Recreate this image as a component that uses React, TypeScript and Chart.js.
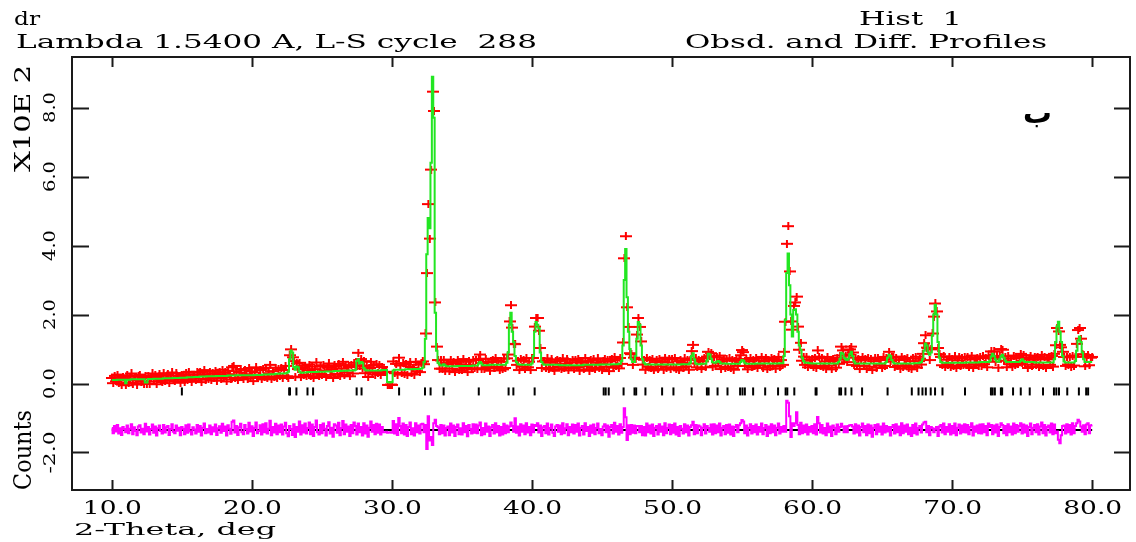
import React, { useEffect, useRef } from "react";
import { Chart, registerables } from "chart.js";
Chart.register(...registerables);

// 2-theta grid of the profile (degrees)
const THETA_START = 10.0;
const THETA_STEP = 0.1;

// Calculated profile, counts, one value per 0.1 deg from 10.0 to 80.0
const calcCounts = [
  10,10,10,10,11,11,11,11,11,11,
  1,11,11,11,12,12,12,12,12,12,
  12,12,12,12,3,3,13,13,13,13,
  14,14,14,14,14,14,14,15,15,15,
  15,15,15,15,16,16,16,16,16,17,
  17,17,17,17,18,18,18,18,18,19,
  19,19,19,20,20,20,20,20,21,21,
  21,21,21,21,21,22,22,22,22,22,
  22,22,22,23,23,23,23,23,23,24,
  24,24,24,24,24,24,24,24,24,24,
  24,24,25,25,25,25,25,25,26,26,
  26,26,26,27,27,27,27,28,28,28,
  29,29,29,29,30,30,34,70,96,90,
  48,40,49,47,35,31,31,32,32,32,
  33,33,33,33,33,33,33,34,34,34,
  34,34,34,35,35,35,35,35,35,36,
  36,36,36,36,37,37,37,37,37,38,
  38,38,38,38,40,65,70,58,62,60,
  45,40,38,38,38,38,38,38,38,38,
  38,38,38,39,39,39,39,4,3,3,
  4,38,40,40,40,40,40,40,40,40,
  41,41,41,41,41,41,42,42,42,42,
  43,43,46,62,130,375,480,450,640,889,
  770,205,95,60,55,52,52,56,52,50,
  50,50,50,50,50,50,50,51,51,51,
  51,51,51,51,51,51,51,51,52,52,
  52,52,58,62,58,53,53,53,53,53,
  54,54,54,54,54,54,54,54,54,54,
  54,54,60,90,170,205,150,120,80,62,
  56,55,54,54,54,54,54,54,54,54,
  58,80,150,178,170,160,90,62,56,54,
  54,54,54,54,54,54,54,54,54,54,
  53,53,53,53,53,53,53,53,53,53,
  53,53,53,53,53,53,53,54,54,54,
  54,54,54,54,54,54,54,54,54,55,
  55,55,55,55,55,55,55,56,56,56,
  56,56,57,57,65,110,300,390,250,150,
  100,70,62,62,80,130,178,170,110,70,
  60,56,55,55,55,55,55,55,55,55,
  55,55,55,55,55,55,55,55,55,55,
  55,55,55,55,55,55,55,56,56,56,
  56,56,56,60,80,88,70,58,56,56,
  56,57,57,57,57,66,86,84,72,62,
  60,60,63,65,62,58,58,58,58,57,
  57,57,57,57,57,57,57,57,57,62,
  68,66,60,57,57,57,57,57,57,57,
  58,58,58,58,58,58,58,58,58,58,
  58,58,58,58,58,58,58,59,59,59,
  80,184,320,377,285,200,136,213,215,200,
  150,110,97,75,65,60,60,60,59,59,
  58,58,58,58,58,58,58,58,58,58,
  58,58,58,58,58,58,58,58,58,62,
  72,89,86,75,70,68,72,85,92,80,
  64,58,58,58,58,58,58,58,58,58,
  58,58,58,58,58,58,58,58,58,58,
  58,58,58,62,75,83,80,68,61,58,
  58,58,58,58,58,58,58,58,58,58,
  58,58,58,59,59,59,59,60,62,70,
  95,116,110,90,83,90,140,200,228,200,
  120,75,62,60,60,60,60,60,60,60,
  60,60,60,60,60,60,60,60,60,60,
  61,61,61,61,61,61,61,61,61,61,
  62,62,62,62,62,62,62,66,78,86,
  80,70,64,63,70,80,83,75,66,62,
  62,62,62,62,62,62,62,62,62,66,
  70,66,62,62,62,62,62,62,62,61,
  61,61,61,61,61,61,61,61,61,61,
  61,61,61,70,120,165,179,150,120,80,
  64,61,61,61,61,61,61,61,65,95,
  125,136,120,90,70,62,62,62,62,62,
  62,
];

// Observed minus calculated, counts, same grid
const diffCounts = [
  6,-9,12,-4,15,-10,5,-14,9,3,
  -6,13,-9,4,17,-12,8,-3,-15,10,
  14,-7,4,-12,18,-4,9,-13,3,16,
  -8,10,-16,5,13,-3,-10,15,-7,8,
  12,-14,3,17,-5,-9,13,-2,7,-15,
  9,4,-12,14,-8,16,-4,-13,8,2,
  -10,15,-5,12,-16,7,19,-9,3,-7,
  13,-12,8,-4,16,-14,5,11,-8,18,
  -3,10,-16,14,4,-11,24,28,-7,12,
  -14,8,18,-6,-12,15,3,-10,21,-4,
  11,-17,7,22,-9,-3,14,-13,17,-6,
  20,-10,4,27,-15,9,-7,18,-12,13,
  -6,16,-13,10,21,-9,-18,12,3,-14,
  17,-20,9,-5,25,-13,14,-7,19,-10,
  6,22,-12,16,-17,9,28,-6,-13,15,
  -9,19,4,-16,12,23,-10,7,-19,17,
  13,-8,21,-15,6,26,-12,16,-5,10,
  -17,15,-9,22,12,-13,19,-6,9,-16,
  20,-10,13,-19,7,25,-5,15,-12,18,
  -8,16,-13,9,-6,-6,-5,-8,-7,-6,
  -8,26,-10,17,-14,35,12,-9,19,-13,
  15,-17,9,22,-12,5,-16,20,-6,13,
  -10,17,18,-6,15,-55,40,-30,-20,-43,
  20,30,12,8,-12,15,-9,13,-16,6,
  10,-15,19,-7,13,-17,9,16,-12,5,
  -13,20,-6,12,-18,15,3,-10,17,-8,
  16,-9,13,22,-15,6,-12,19,-5,10,
  -17,8,15,-10,20,-6,12,-16,9,-13,
  18,-9,13,-6,10,22,12,-5,34,-8,
  10,-16,17,-5,13,-12,20,-7,9,-15,
  16,-6,15,12,20,-7,13,-17,8,12,
  -9,19,-13,6,16,-8,-17,10,15,-5,
  13,-12,20,-9,5,17,-15,9,-6,16,
  -10,15,-5,19,-16,7,12,-13,20,-3,
  9,-17,13,-8,16,-12,6,19,-9,3,
  -15,10,17,-6,13,-19,9,15,-10,21,
  -5,12,-13,17,-8,9,63,37,-29,14,
  -12,15,-8,13,-9,12,12,-6,12,-15,
  9,-16,19,-6,13,-10,16,-17,7,12,
  -13,17,-5,10,-15,20,-9,6,16,-12,
  15,-8,19,-13,9,-17,12,4,-10,17,
  -6,13,-16,9,14,24,-12,15,-9,13,
  10,-15,7,17,-10,12,6,-5,16,-13,
  17,-9,13,-6,19,-16,7,12,-12,15,
  -8,16,-13,10,-17,9,15,-6,14,20,
  29,25,-9,13,-16,7,17,-10,12,-6,
  16,-13,9,-5,19,-12,6,15,-17,10,
  -9,17,-6,13,-15,7,19,-10,9,-5,
  12,-5,85,79,40,-20,20,12,20,52,
  15,-12,21,-9,13,-6,16,-13,9,-5,
  12,-9,17,-13,38,20,-7,15,-10,6,
  -15,19,-6,10,-17,13,7,-12,16,-5,
  9,18,10,-6,11,-6,12,14,15,10,
  -10,17,-7,13,-16,9,19,-6,12,-15,
  16,-9,13,-19,7,15,-12,17,-5,10,
  -13,19,-7,12,-4,9,-16,9,15,-10,
  17,-6,10,-15,20,-9,13,-5,16,-12,
  7,-17,15,-9,19,-13,6,12,-7,16,
  22,24,-6,12,-15,9,5,-6,4,9,
  -17,10,15,-7,19,-12,9,-5,17,-13,
  12,-9,19,-15,7,16,-10,13,-6,17,
  -7,15,-12,9,20,-16,10,-5,13,-9,
  16,-10,17,-6,12,-15,19,9,15,-12,
  13,-7,16,-17,9,20,15,-9,12,-15,
  17,-6,10,-13,19,-9,15,-5,12,20,
  -10,16,-7,13,-17,9,19,-12,7,15,
  -6,17,-13,10,22,-9,15,-16,9,13,
  -7,19,-12,16,-9,-4,-28,-38,-15,12,
  13,-10,17,-6,15,-13,20,-9,12,20,
  30,25,10,-5,14,-12,16,20,-9,13,
  15,
];

// Reflection positions (deg 2-theta)
const reflections = [
  15.0, 22.66, 22.72, 23.18, 23.97, 24.37, 27.48, 27.83, 30.51, 32.36, 32.76,
  33.69, 36.2, 38.33, 38.67, 40.19, 45.12, 45.26, 45.48, 46.54, 47.32, 47.44,
  48.1, 49.29, 50.1, 51.4, 52.49, 52.61, 53.25, 53.96, 54.86, 55.03, 55.2,
  55.79, 56.65, 57.57, 58.11, 58.23, 58.73, 60.25, 60.32, 61.95, 62.07, 62.38,
  62.81, 63.57, 65.39, 67.12, 67.6, 67.88, 68.12, 68.47, 68.78, 69.31, 70.92,
  72.77, 72.89, 73.05, 73.48, 73.57, 74.35, 74.9, 75.54, 76.49, 77.27, 77.44,
  77.63, 78.22, 79.05, 79.57, 79.71,
];

const xTicks = [10, 20, 30, 40, 50, 60, 70, 80];
const xTickLabels = ["10.0", "20.0", "30.0", "40.0", "50.0", "60.0", "70.0", "80.0"];
const yTicks = [-2, 0, 2, 4, 6, 8];
const yTickLabels = ["-2.0", "0.0", "2.0", "4.0", "6.0", "8.0"];

const COUNTS_PER_UNIT = 100; // axis is X10E 2 counts
const DIFF_OFFSET = -135; // counts, where the difference curve is drawn
const REFL_LEVEL = -23; // counts, row of reflection markers

const X_MIN = 7.155;
const X_MAX = 82.70;
const Y_MIN = -3.087;
const Y_MAX = 9.464;

const SERIF = '"DejaVu Serif", "Liberation Serif", serif';

function fitText(
  ctx: CanvasRenderingContext2D,
  text: string,
  x: number,
  y: number,
  width: number,
  size: number,
  rot = 0,
  font = SERIF,
  weight = "normal"
) {
  ctx.save();
  ctx.translate(x, y);
  if (rot) ctx.rotate(rot);
  ctx.font = `${weight} ${size}px ${font}`;
  const w = ctx.measureText(text).width;
  ctx.scale(width / w, 1);
  ctx.textAlign = "left";
  ctx.textBaseline = "alphabetic";
  ctx.fillStyle = "#000";
  ctx.fillText(text, 0, 0);
  ctx.restore();
}

const framePlugin = {
  id: "gsasFrame",
  afterDraw(chart: any) {
    const ctx: CanvasRenderingContext2D = chart.ctx;
    const { left, right, top, bottom } = chart.chartArea;
    const xs = chart.scales.x;
    const ys = chart.scales.y;
    ctx.save();
    ctx.strokeStyle = "#1a1a1a";
    ctx.lineWidth = 2;
    ctx.strokeRect(left, top, right - left, bottom - top);
    ctx.beginPath();
    xTicks.forEach((v) => {
      const px = Math.round(xs.getPixelForValue(v)) + 0.5;
      ctx.moveTo(px, bottom);
      ctx.lineTo(px, bottom - 10);
      ctx.moveTo(px, top);
      ctx.lineTo(px, top + 10);
    });
    yTicks.forEach((v) => {
      const py = Math.round(ys.getPixelForValue(v)) + 0.5;
      ctx.moveTo(left, py);
      ctx.lineTo(left + 17, py);
      ctx.moveTo(right, py);
      ctx.lineTo(right - 16, py);
    });
    ctx.stroke();
    ctx.restore();

    // x tick labels
    xTicks.forEach((v, i) => {
      const px = xs.getPixelForValue(v);
      fitText(ctx, xTickLabels[i], px - 29, 514, 59, 18);
    });
    // y tick labels (rotated)
    yTicks.forEach((v, i) => {
      const py = ys.getPixelForValue(v);
      const lab = yTickLabels[i];
      const len = lab.length === 4 ? 42 : 31;
      fitText(ctx, lab, 55, py + len / 2, len, 17, -Math.PI / 2);
    });
    // titles
    fitText(ctx, "dr", 14, 25, 26, 18);
    fitText(ctx, "Lambda 1.5400 A, L-S cycle  288", 16, 48, 521, 18);
    fitText(ctx, "Hist  1", 859, 25, 103, 18);
    fitText(ctx, "Obsd. and Diff. Profiles", 685, 48, 362, 18);
    fitText(ctx, "2-Theta, deg", 74, 535, 202, 17);
    fitText(ctx, "X10E 2", 30, 172, 107, 22, -Math.PI / 2);
    fitText(ctx, "Counts", 31, 490, 80, 24, -Math.PI / 2);
    fitText(ctx, "ب", 1023, 123, 29, 30, 0, '"DejaVu Sans", sans-serif', "bold");
  },
};

export default function App() {
  const ref = useRef<HTMLCanvasElement | null>(null);
  useEffect(() => {
    const canvas = ref.current;
    if (!canvas) return;

    const cross = document.createElement("canvas");
    cross.width = 12;
    cross.height = 8;
    const cctx = cross.getContext("2d")!;
    cctx.fillStyle = "#ff0000";
    cctx.fillRect(0, 3, 12, 2);
    cctx.fillRect(5, 0, 2, 8);

    const theta = calcCounts.map((_, i) => +(THETA_START + i * THETA_STEP).toFixed(2));
    const calcPts = calcCounts.map((c, i) => ({ x: theta[i], y: c / COUNTS_PER_UNIT }));
    const obsPts = calcCounts.map((c, i) => ({ x: theta[i], y: (c + diffCounts[i]) / COUNTS_PER_UNIT }));
    const diffPts = diffCounts.map((d, i) => ({ x: theta[i], y: (DIFF_OFFSET + d) / COUNTS_PER_UNIT }));
    const zeroPts = [
      { x: theta[0], y: DIFF_OFFSET / COUNTS_PER_UNIT },
      { x: theta[theta.length - 1], y: DIFF_OFFSET / COUNTS_PER_UNIT },
    ];
    const reflPts = reflections.map((r) => ({ x: r, y: REFL_LEVEL / COUNTS_PER_UNIT }));

    const chart = new Chart(canvas, {
      type: "line",
      data: {
        datasets: [
          {
            label: "Calc",
            data: calcPts,
            borderColor: "#22e622",
            borderWidth: 2,
            pointRadius: 0,
            stepped: "middle",
            fill: false,
          },
          {
            label: "Obsd",
            data: obsPts,
            showLine: false,
            pointStyle: cross as any,
            pointRadius: 5,
            pointBorderWidth: 0,
          },
          {
            label: "Diff",
            data: diffPts,
            borderColor: "#ff00ff",
            borderWidth: 2,
            pointRadius: 0,
            stepped: "middle",
            fill: false,
          },
          {
            label: "Zero",
            data: zeroPts,
            borderColor: "#000000",
            borderWidth: 2,
            pointRadius: 0,
            fill: false,
          },
          {
            label: "Reflections",
            data: reflPts,
            showLine: false,
            pointStyle: "line",
            pointRotation: 90,
            pointRadius: 4,
            pointBorderWidth: 2,
            pointBorderColor: "#000000",
            pointBackgroundColor: "#000000",
          },
        ] as any,
      },
      options: {
        responsive: false,
        animation: false,
        devicePixelRatio: 1,
        layout: { padding: { left: 72, top: 57, right: 2, bottom: 52 } },
        scales: {
          x: { type: "linear", min: X_MIN, max: X_MAX, display: false },
          y: { type: "linear", min: Y_MIN, max: Y_MAX, display: false },
        },
        plugins: {
          legend: { display: false },
          tooltip: { enabled: false },
        },
        events: [],
      } as any,
      plugins: [framePlugin],
    });
    return () => chart.destroy();
  }, []);

  return (
    <div style={{ position: "absolute", left: 0, top: 0, width: 1136, height: 542, background: "#fff" }}>
      <canvas ref={ref} width={1136} height={542} style={{ display: "block" }} />
    </div>
  );
}
